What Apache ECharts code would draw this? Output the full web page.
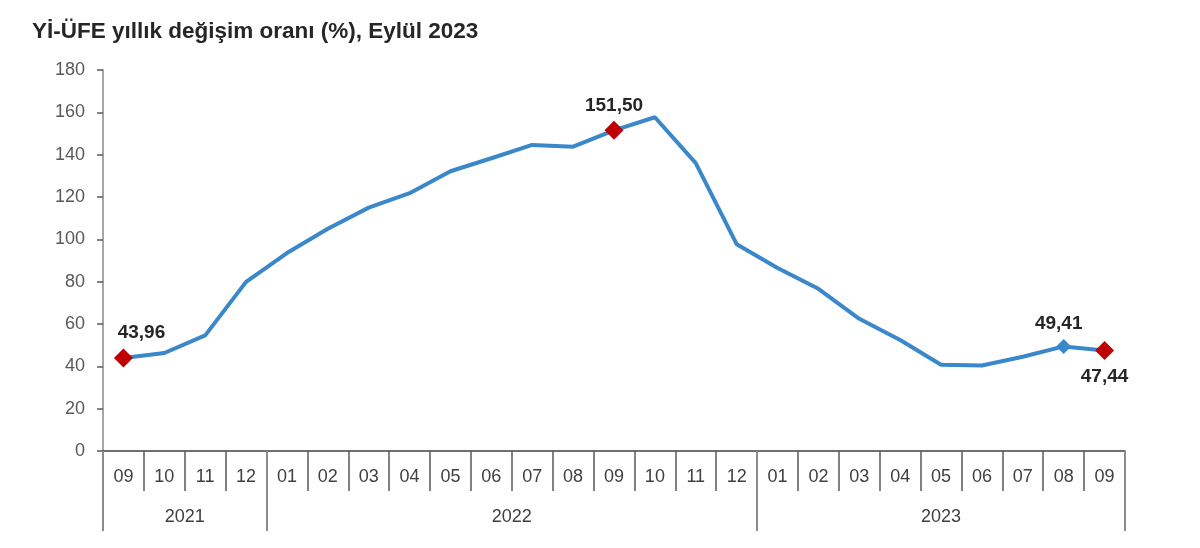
<!DOCTYPE html>
<html>
<head>
<meta charset="utf-8">
<script src="https://cdn.jsdelivr.net/npm/echarts@6/dist/echarts.min.js"></script>
<style>
html,body{margin:0;padding:0;background:#fff;}
#chart{width:1200px;height:548px;}
</style>
</head>
<body>
<div id="chart"></div>
<script>
// Data
const periods = ['2021-09','2021-10','2021-11','2021-12',
  '2022-01','2022-02','2022-03','2022-04','2022-05','2022-06','2022-07','2022-08','2022-09','2022-10','2022-11','2022-12',
  '2023-01','2023-02','2023-03','2023-04','2023-05','2023-06','2023-07','2023-08','2023-09'];
const values = [43.96, 46.3, 54.62, 79.89,
  93.53, 105.01, 114.97, 121.82, 132.16, 138.31, 144.61, 143.75, 151.50, 157.69, 136.02, 97.72,
  86.46, 76.61, 62.45, 52.44, 40.76, 40.42, 44.50, 49.41, 47.44];
const yTicks = [0, 20, 40, 60, 80, 100, 120, 140, 160, 180];
// highlighted points: index, colour kind, label position
const highlightIdx = [0, 12, 23, 24];
const highlightKind = ['red', 'red', 'blue', 'red'];
const highlightPos = ['top', 'top', 'top', 'bottom'];
const highlightShift = [18, 0, -5, 0];
const titleText = 'Yİ-ÜFE yıllık değişim oranı (%), Eylül 2023';

const months = periods.map(p => p.split('-')[1]);
const yearOf = periods.map(p => p.split('-')[0]);
// year groups
const groups = [];
yearOf.forEach((y, i) => {
  if (!groups.length || groups[groups.length - 1].year !== y) groups.push({year: y, start: i, count: 1});
  else groups[groups.length - 1].count++;
});
const yearBounds = groups.map(g => g.start).concat([periods.length]);
const yearCenters = groups.map(g => g.start + g.count / 2);

const FONT = 'Liberation Sans, Arial, sans-serif';
const LINE = '#3a88c9';
const RED = '#c00000';
const fmt = v => v.toFixed(2).replace('.', ',');

const seriesData = values.map((v, i) => {
  const k = highlightIdx.indexOf(i);
  if (k < 0) return {value: v, symbol: 'none'};
  const red = highlightKind[k] === 'red';
  return {
    value: v,
    symbol: 'diamond',
    symbolSize: red ? 19 : 15,
    itemStyle: {color: red ? RED : LINE},
    label: {
      show: true,
      position: highlightPos[k],
      distance: highlightPos[k] === 'top' ? 6 : 7,
      offset: [highlightShift[k], 0],
      formatter: () => fmt(v),
      fontFamily: FONT,
      fontWeight: 'bold',
      fontSize: 19,
      color: '#262626'
    }
  };
});

const chart = echarts.init(document.getElementById('chart'), null, {renderer: 'canvas'});
chart.setOption({
  animation: false,
  backgroundColor: '#fff',
  title: {
    text: titleText,
    left: 32, top: 20, padding: 0,
    textStyle: {fontFamily: FONT, fontWeight: 'bold', fontSize: 22.5, color: '#262626'}
  },
  grid: {left: 103, right: 75, top: 70, bottom: 97, containLabel: false},
  xAxis: [
    {
      type: 'category',
      data: months,
      boundaryGap: true,
      axisLine: {show: true, lineStyle: {color: '#404040', width: 1.5}},
      axisTick: {show: true, interval: 0, length: 40, lineStyle: {color: '#595959', width: 1.5}},
      axisLabel: {interval: 0, margin: 17, fontSize: 18, color: '#404040', fontFamily: FONT},
      splitLine: {show: false}
    },
    {
      type: 'value',
      min: 0, max: periods.length,
      position: 'bottom',
      axisLine: {show: false},
      axisTick: {show: true, customValues: yearBounds, length: 80, lineStyle: {color: '#8c8c8c', width: 2}},
      axisLabel: {
        show: true, customValues: yearCenters, margin: 57,
        fontSize: 18, color: '#404040', fontFamily: FONT,
        formatter: v => { const i = yearCenters.indexOf(v); return i >= 0 ? groups[i].year : ''; }
      },
      splitLine: {show: false}
    }
  ],
  yAxis: {
    type: 'value',
    min: 0, max: 180, interval: 20,
    axisLine: {show: true, lineStyle: {color: '#a6a6a6', width: 2}},
    axisTick: {show: true, length: 6, lineStyle: {color: '#595959', width: 1.5}},
    axisLabel: {
      margin: 18, fontSize: 18, color: '#595959', fontFamily: FONT,
      customValues: yTicks
    },
    splitLine: {show: false}
  },
  series: [{
    type: 'line',
    xAxisIndex: 0,
    data: seriesData,
    showSymbol: true,
    showAllSymbol: true,
    symbol: 'diamond',
    lineStyle: {color: LINE, width: 4},
    itemStyle: {color: LINE},
    z: 3
  }]
});
</script>
</body>
</html>
